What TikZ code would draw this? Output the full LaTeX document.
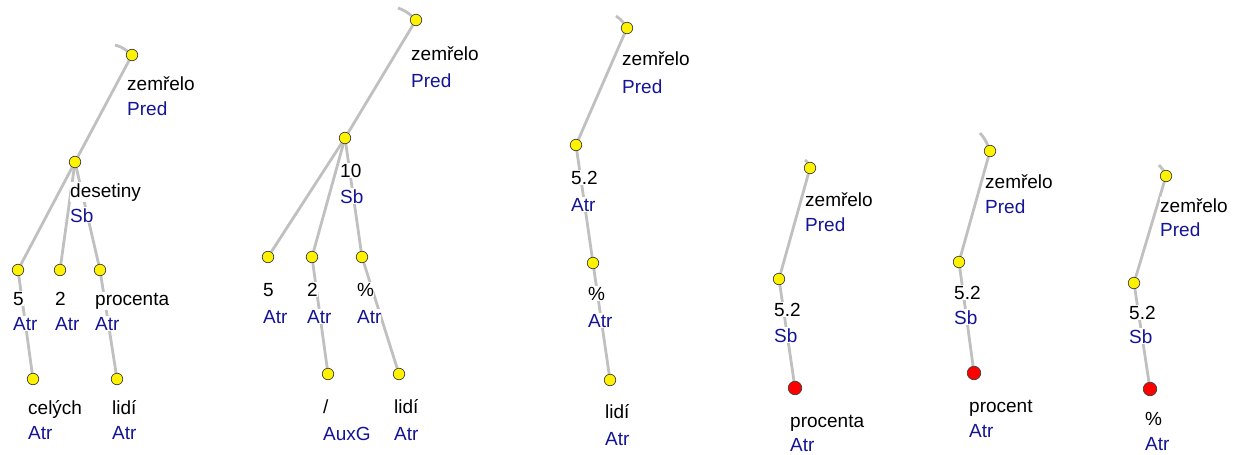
\documentclass[tikz,border=0pt]{standalone}
\usepackage{fontspec}
\setmainfont{Liberation Sans}
\usetikzlibrary{backgrounds}
\definecolor{linkgray}{RGB}{192,192,192}
\definecolor{fnblue}{RGB}{20,20,150}

\begin{document}
\begin{tikzpicture}[x=1pt, y=-1pt,
    ydot/.style={circle, draw=black!75, line width=0.7pt, fill=yellow, minimum size=11.5pt, inner sep=0pt},
    rdot/.style={circle, draw=black!75, line width=0.7pt, fill=red, minimum size=13.5pt, inner sep=0pt},
    word/.style={anchor=base west, fill=white, inner xsep=0pt, inner ysep=1pt, font=\fontsize{19}{23}\selectfont},
    fn/.style={word, text=fnblue},
    link/.style={draw=linkgray, line width=2.8pt}]
    \useasboundingbox (0, 0) rectangle (1235, 455);

    % ツリー 1
    \coordinate (s1) at (115, 45);
    \node[ydot] (r1) at (132, 55) {};
    \node[ydot] (d1) at (75, 162) {};
    \node[ydot] (a1) at (18, 270) {};
    \node[ydot] (b1) at (60, 270) {};
    \node[ydot] (c1) at (100, 270) {};
    \node[ydot] (e1) at (33, 379) {};
    \node[ydot] (f1) at (117, 379) {};

    % ツリー 2
    \coordinate (s2) at (398, 8);
    \node[ydot] (r2) at (416, 20) {};
    \node[ydot] (t2) at (345, 138) {};
    \node[ydot] (a2) at (268, 257) {};
    \node[ydot] (b2) at (312, 257) {};
    \node[ydot] (c2) at (362, 257) {};
    \node[ydot] (g2) at (328, 374) {};
    \node[ydot] (h2) at (399, 374) {};

    % ツリー 3
    \coordinate (s3) at (616, 16);
    \node[ydot] (r3) at (627, 28) {};
    \node[ydot] (a3) at (576, 145) {};
    \node[ydot] (b3) at (593, 263) {};
    \node[ydot] (c3) at (610, 380) {};

    % ツリー 4, 5, 6
    \coordinate (s4) at (805, 160);
    \node[ydot] (r4) at (810, 168) {};
    \node[ydot] (a4) at (779, 279) {};
    \node[rdot] (p4) at (795, 388) {};

    \coordinate (s5) at (980, 133);
    \node[ydot] (r5) at (990, 151) {};
    \node[ydot] (a5) at (959, 262) {};
    \node[rdot] (p5) at (974, 373) {};

    \coordinate (s6) at (1159, 165);
    \node[ydot] (r6) at (1166, 176) {};
    \node[ydot] (a6) at (1134, 283) {};
    \node[rdot] (p6) at (1150, 389) {};

    % 線を引く
    \begin{pgfonlayer}{background}
    \draw[link] (s1) to[bend left=10] (r1);
    \draw[link] (r1) -- (d1);
    \draw[link] (d1) -- (a1);
    \draw[link] (d1) -- (b1);
    \draw[link] (d1) -- (c1);
    \draw[link] (a1) -- (e1);
    \draw[link] (c1) -- (f1);

    \draw[link] (s2) to[bend left=10] (r2);
    \draw[link] (r2) -- (t2);
    \draw[link] (t2) -- (a2);
    \draw[link] (t2) -- (b2);
    \draw[link] (t2) -- (c2);
    \draw[link] (b2) -- (g2);
    \draw[link] (c2) -- (h2);

    \draw[link] (s3) to[bend left=8] (r3);
    \draw[link] (r3) -- (a3);
    \draw[link] (a3) -- (b3);
    \draw[link] (b3) -- (c3);

    \draw[link] (s4) to[bend left=8] (r4);
    \draw[link] (r4) -- (a4);
    \draw[link] (a4) -- (p4);

    \draw[link] (s5) to[bend left=8] (r5);
    \draw[link] (r5) -- (a5);
    \draw[link] (a5) -- (p5);

    \draw[link] (s6) to[bend left=8] (r6);
    \draw[link] (r6) -- (a6);
    \draw[link] (a6) -- (p6);
    \end{pgfonlayer}

    % ラベル
    \node[word] (r1w) at (132 - 5, 55 + 35) {zemřelo};
    \node[fn] (r1f) at (132 - 5, 55 + 60) {Pred};
    \node[word] (d1w) at (75 - 5, 162 + 35) {desetiny};
    \node[fn] (d1f) at (75 - 5, 162 + 60) {Sb};
    \node[word] (a1w) at (18 - 5, 270 + 35) {5};
    \node[fn] (a1f) at (18 - 5, 270 + 60) {Atr};
    \node[word] (b1w) at (60 - 5, 270 + 35) {2};
    \node[fn] (b1f) at (60 - 5, 270 + 60) {Atr};
    \node[word] (c1w) at (100 - 5, 270 + 35) {procenta};
    \node[fn] (c1f) at (100 - 5, 270 + 60) {Atr};
    \node[word] (e1w) at (33 - 5, 379 + 35) {celých};
    \node[fn] (e1f) at (33 - 5, 379 + 60) {Atr};
    \node[word] (f1w) at (117 - 5, 379 + 35) {lidí};
    \node[fn] (f1f) at (117 - 5, 379 + 60) {Atr};

    \node[word] (r2w) at (416 - 5, 20 + 40) {zemřelo};
    \node[fn] (r2f) at (416 - 5, 20 + 67) {Pred};
    \node[word] (t2w) at (345 - 5, 138 + 39) {10};
    \node[fn] (t2f) at (345 - 5, 138 + 65) {Sb};
    \node[word] (a2w) at (268 - 5, 257 + 39) {5};
    \node[fn] (a2f) at (268 - 5, 257 + 66) {Atr};
    \node[word] (b2w) at (312 - 5, 257 + 39) {2};
    \node[fn] (b2f) at (312 - 5, 257 + 66) {Atr};
    \node[word] (c2w) at (362 - 5, 257 + 39) {\%};
    \node[fn] (c2f) at (362 - 5, 257 + 66) {Atr};
    \node[word] (g2w) at (328 - 5, 374 + 39) {/};
    \node[fn] (g2f) at (328 - 5, 374 + 66) {AuxG};
    \node[word] (h2w) at (399 - 5, 374 + 39) {lidí};
    \node[fn] (h2f) at (399 - 5, 374 + 66) {Atr};

    \node[word] (r3w) at (627 - 5, 28 + 37) {zemřelo};
    \node[fn] (r3f) at (627 - 5, 28 + 65) {Pred};
    \node[word] (a3w) at (576 - 5, 145 + 39) {5.2};
    \node[fn] (a3f) at (576 - 5, 145 + 66) {Atr};
    \node[word] (b3w) at (593 - 5, 263 + 37) {\%};
    \node[fn] (b3f) at (593 - 5, 263 + 64) {Atr};
    \node[word] (c3w) at (610 - 5, 380 + 38) {lidí};
    \node[fn] (c3f) at (610 - 5, 380 + 65) {Atr};

    \node[word] (r4w) at (810 - 5, 168 + 38) {zemřelo};
    \node[fn] (r4f) at (810 - 5, 168 + 63) {Pred};
    \node[word] (a4w) at (779 - 5, 279 + 37) {5.2};
    \node[fn] (a4f) at (779 - 5, 279 + 63) {Sb};
    \node[word] (p4w) at (795 - 5, 388 + 39) {procenta};
    \node[fn] (p4f) at (795 - 5, 388 + 63) {Atr};

    \node[word] (r5w) at (990 - 5, 151 + 37) {zemřelo};
    \node[fn] (r5f) at (990 - 5, 151 + 62) {Pred};
    \node[word] (a5w) at (959 - 5, 262 + 37) {5.2};
    \node[fn] (a5f) at (959 - 5, 262 + 62) {Sb};
    \node[word] (p5w) at (974 - 5, 373 + 39) {procent};
    \node[fn] (p5f) at (974 - 5, 373 + 64) {Atr};

    \node[word] (r6w) at (1166 - 6, 176 + 36) {zemřelo};
    \node[fn] (r6f) at (1166 - 6, 176 + 60) {Pred};
    \node[word] (a6w) at (1134 - 5, 283 + 36) {5.2};
    \node[fn] (a6f) at (1134 - 5, 283 + 60) {Sb};
    \node[word] (p6w) at (1150 - 5, 389 + 36) {\%};
    \node[fn] (p6f) at (1150 - 5, 389 + 61) {Atr};

  \end{tikzpicture}
\end{document}
